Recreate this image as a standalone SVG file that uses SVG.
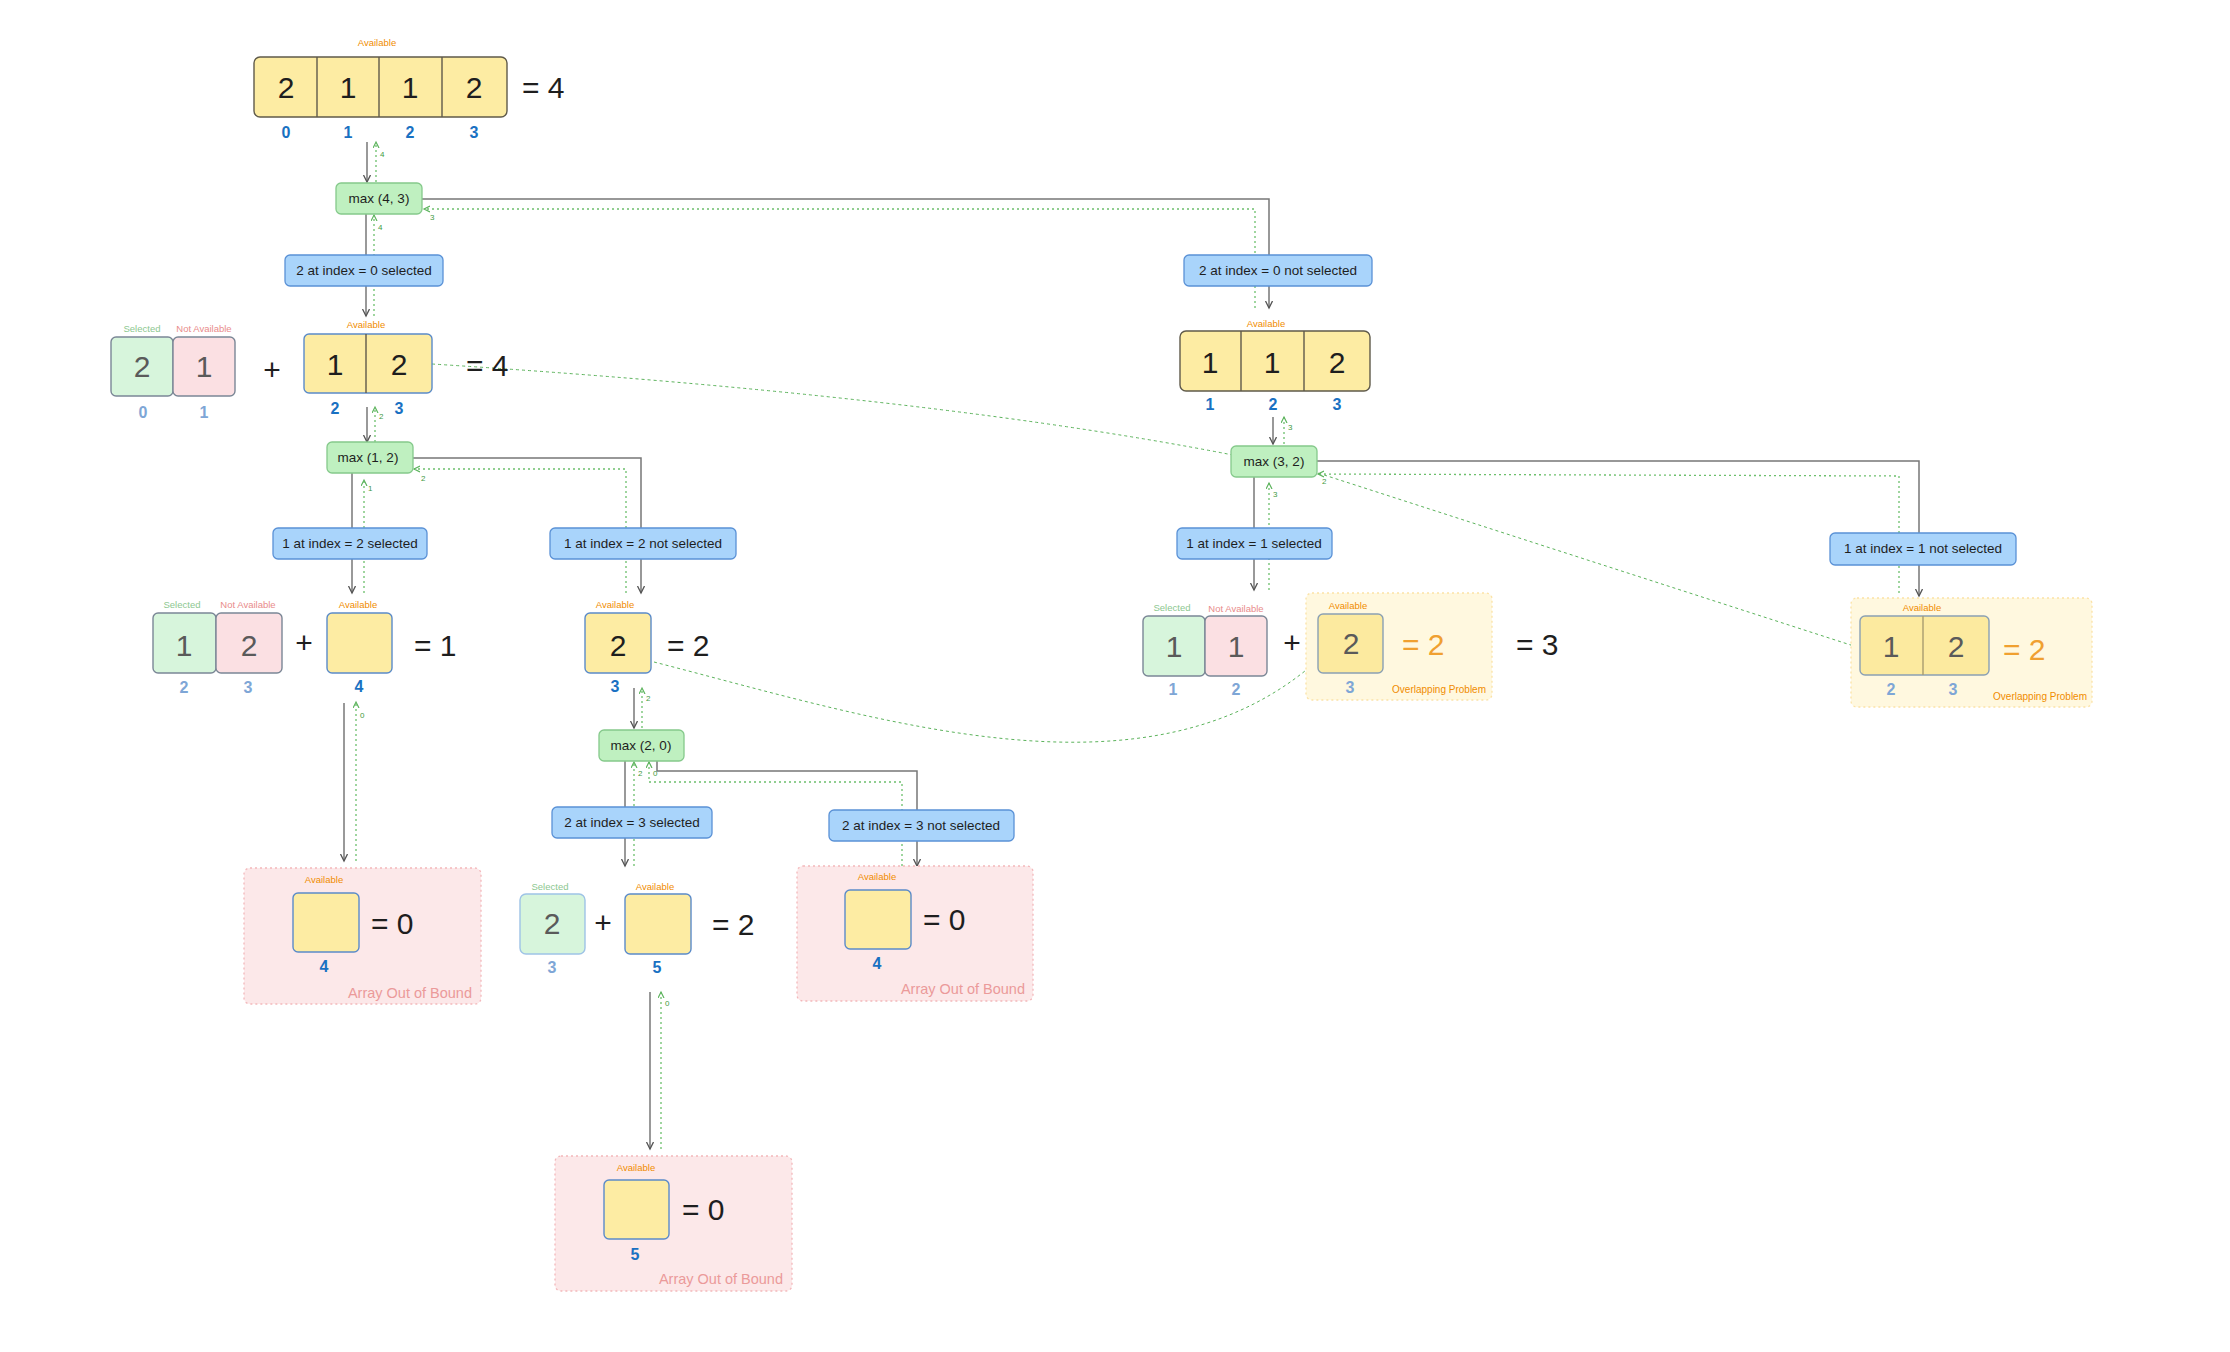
<svg xmlns="http://www.w3.org/2000/svg" width="2230" height="1352" viewBox="0 0 2230 1352">
<style>
text{font-family:"Liberation Sans",Arial,sans-serif}
.big{font-size:30px;fill:#1e1e1e;text-anchor:middle}
.eq{font-size:30px;fill:#1e1e1e}
.fade{fill:#5a5a5a}
.idx{font-size:16px;fill:#1971c2;text-anchor:middle;font-weight:bold}
.idxf{font-size:16px;fill:#7ea6d6;text-anchor:middle;font-weight:bold}
.avl{font-size:9.5px;fill:#f08c00;text-anchor:middle}
.sel{font-size:9.5px;fill:#8cc790;text-anchor:middle}
.nav{font-size:9.5px;fill:#e98b8b;text-anchor:middle}
.lbl{font-size:13.5px;fill:#1e1e1e;text-anchor:middle}
.cl{font-size:8px;fill:#3f9a3f}
.yel{fill:#fdeca3;stroke:#5f5a4a;stroke-width:1.4}
.yelb{fill:#fdeca3;stroke:#5b8bc9;stroke-width:1.4}
.selc{fill:#d7f5dc;stroke:#7b8796;stroke-width:1.4}
.navc{fill:#fbe0e3;stroke:#7b8796;stroke-width:1.4}
.node{fill:#bff0c0;stroke:#85c98b;stroke-width:1.3}
.blue{fill:#a9d4fb;stroke:#5a91d6;stroke-width:1.3}
.oob{fill:#fce8e9;stroke:#f3b8bb;stroke-width:1.3;stroke-dasharray:2 3}
.ovl{fill:#fff8df;stroke:#fbe2a6;stroke-width:1.3;stroke-dasharray:2 3}
.oobt{font-size:14.5px;fill:#eb9a9a;text-anchor:end}
.ovlt{font-size:10px;fill:#f08c00;text-anchor:end}
.g{fill:none;stroke:#777;stroke-width:1.5}
.d{fill:none;stroke:#6cbf6c;stroke-width:1.3;stroke-dasharray:2 3}
.dl{fill:none;stroke:#5cb35c;stroke-width:1;stroke-dasharray:3 3}
</style>
<defs>
<marker id="ag" markerUnits="userSpaceOnUse" markerWidth="10" markerHeight="10" refX="7" refY="4" orient="auto">
<path d="M0,0.5 L7,4 L0,7.5" fill="none" stroke="#555" stroke-width="1.3"/>
</marker>
<marker id="ad" markerUnits="userSpaceOnUse" markerWidth="10" markerHeight="10" refX="6" refY="3.5" orient="auto">
<path d="M0,0.5 L6,3.5 L0,6.5" fill="none" stroke="#5cb35c" stroke-width="1.2"/>
</marker>
</defs>
<rect width="2230" height="1352" fill="#ffffff"/>

<g id="connectors">
<path class="dl" d="M432,364 Q1000,400 1318,473 L1860,648"/>
<path class="dl" d="M654,662 C880,720 1150,810 1318,660"/>
<path class="g" d="M367,142 L367,182" marker-end="url(#ag)"/>
<path class="d" d="M376,182 L376,142" marker-end="url(#ad)"/>
<text class="cl" x="380" y="157">4</text>
<path class="g" d="M366,214 L366,316" marker-end="url(#ag)"/>
<path class="d" d="M374,316 L374,215" marker-end="url(#ad)"/>
<text class="cl" x="378" y="230">4</text>
<path class="g" d="M422,199 L1269,199 L1269,308" marker-end="url(#ag)"/>
<path class="d" d="M1255,308 L1255,209 L424,209" marker-end="url(#ad)"/>
<text class="cl" x="430" y="220">3</text>
<path class="g" d="M367,407 L367,442" marker-end="url(#ag)"/>
<path class="d" d="M375,442 L375,407" marker-end="url(#ad)"/>
<text class="cl" x="379" y="419">2</text>
<path class="g" d="M352,473 L352,593" marker-end="url(#ag)"/>
<path class="d" d="M364,593 L364,480" marker-end="url(#ad)"/>
<text class="cl" x="368" y="491">1</text>
<path class="g" d="M413,458 L641,458 L641,593" marker-end="url(#ag)"/>
<path class="d" d="M626,593 L626,469 L414,469" marker-end="url(#ad)"/>
<text class="cl" x="421" y="481">2</text>
<path class="g" d="M344,703 L344,861" marker-end="url(#ag)"/>
<path class="d" d="M356,861 L356,702" marker-end="url(#ad)"/>
<text class="cl" x="360" y="718">0</text>
<path class="g" d="M634,688 L634,728" marker-end="url(#ag)"/>
<path class="d" d="M642,728 L642,688" marker-end="url(#ad)"/>
<text class="cl" x="646" y="701">2</text>
<path class="g" d="M625,761 L625,866" marker-end="url(#ag)"/>
<path class="d" d="M634,866 L634,762" marker-end="url(#ad)"/>
<text class="cl" x="638" y="776">2</text>
<path class="g" d="M657,761 L657,771 L917,771 L917,866" marker-end="url(#ag)"/>
<path class="d" d="M902,866 L902,782 L649,782 L649,762" marker-end="url(#ad)"/>
<text class="cl" x="653" y="776">0</text>
<path class="g" d="M650,992 L650,1149" marker-end="url(#ag)"/>
<path class="d" d="M661,1149 L661,992" marker-end="url(#ad)"/>
<text class="cl" x="665" y="1006">0</text>
<path class="g" d="M1273,417 L1273,444" marker-end="url(#ag)"/>
<path class="d" d="M1284,444 L1284,417" marker-end="url(#ad)"/>
<text class="cl" x="1288" y="430">3</text>
<path class="g" d="M1254,477 L1254,590" marker-end="url(#ag)"/>
<path class="d" d="M1269,590 L1269,483" marker-end="url(#ad)"/>
<text class="cl" x="1273" y="497">3</text>
<path class="g" d="M1317,461 L1919,461 L1919,596" marker-end="url(#ag)"/>
<path class="d" d="M1899,593 L1899,476 L1318,474" marker-end="url(#ad)"/>
<text class="cl" x="1322" y="484">2</text>
</g>

<g id="arr-0123">
<text class="avl" x="377" y="46">Available</text>
<rect class="yel" x="254" y="57" width="253" height="60" rx="6"/>
<path d="M317,57 V117 M379,57 V117 M442,57 V117" stroke="#5f5a4a" stroke-width="1.4"/>
<text class="big" x="286" y="98">2</text>
<text class="big" x="348" y="98">1</text>
<text class="big" x="410" y="98">1</text>
<text class="big" x="474" y="98">2</text>
<text class="eq" x="522" y="98">= 4</text>
<text class="idx" x="286" y="138">0</text>
<text class="idx" x="348" y="138">1</text>
<text class="idx" x="410" y="138">2</text>
<text class="idx" x="474" y="138">3</text>
</g>

<g id="max43">
<rect class="node" x="336" y="183" width="86" height="31" rx="5"/>
<text class="lbl" x="379" y="203">max (4, 3)</text>
</g>
<g id="sel0">
<rect class="blue" x="285" y="255" width="158" height="31" rx="5"/>
<text class="lbl" x="364" y="275">2 at index = 0 selected</text>
</g>
<g id="nsel0">
<rect class="blue" x="1184" y="255" width="188" height="31" rx="5"/>
<text class="lbl" x="1278" y="275">2 at index = 0 not selected</text>
</g>

<g id="state-0sel">
<text class="sel" x="142" y="332">Selected</text>
<text class="nav" x="204" y="332">Not Available</text>
<rect class="selc" x="111" y="337" width="62" height="59" rx="5"/>
<rect class="navc" x="173" y="337" width="62" height="59" rx="5"/>
<text class="big fade" x="142" y="377">2</text>
<text class="big fade" x="204" y="377">1</text>
<text class="idxf" x="143" y="418">0</text>
<text class="idxf" x="204" y="418">1</text>
<text class="big" x="272" y="380">+</text>
<text class="avl" x="366" y="328">Available</text>
<rect class="yelb" x="304" y="334" width="128" height="59" rx="5"/>
<path d="M366,334 V393" stroke="#5f5a4a" stroke-width="1.4"/>
<text class="big" x="335" y="375">1</text>
<text class="big" x="399" y="375">2</text>
<text class="idx" x="335" y="414">2</text>
<text class="idx" x="399" y="414">3</text>
<text class="eq" x="466" y="376">= 4</text>
</g>

<g id="state-0nsel">
<text class="avl" x="1266" y="327">Available</text>
<rect class="yel" x="1180" y="331" width="190" height="60" rx="6"/>
<path d="M1241,331 V391 M1304,331 V391" stroke="#5f5a4a" stroke-width="1.4"/>
<text class="big" x="1210" y="373">1</text>
<text class="big" x="1272" y="373">1</text>
<text class="big" x="1337" y="373">2</text>
<text class="idx" x="1210" y="410">1</text>
<text class="idx" x="1273" y="410">2</text>
<text class="idx" x="1337" y="410">3</text>
</g>

<g id="max12">
<rect class="node" x="327" y="442" width="86" height="31" rx="5"/>
<text class="lbl" x="368" y="462">max (1, 2)</text>
</g>
<g id="sel2">
<rect class="blue" x="273" y="528" width="154" height="31" rx="5"/>
<text class="lbl" x="350" y="548">1 at index = 2 selected</text>
</g>
<g id="nsel2">
<rect class="blue" x="550" y="528" width="186" height="31" rx="5"/>
<text class="lbl" x="643" y="548">1 at index = 2 not selected</text>
</g>

<g id="max32">
<rect class="node" x="1231" y="446" width="86" height="31" rx="5"/>
<text class="lbl" x="1274" y="466">max (3, 2)</text>
</g>
<g id="sel1">
<rect class="blue" x="1177" y="528" width="155" height="31" rx="5"/>
<text class="lbl" x="1254" y="548">1 at index = 1 selected</text>
</g>
<g id="nsel1">
<rect class="blue" x="1830" y="533" width="186" height="32" rx="5"/>
<text class="lbl" x="1923" y="553">1 at index = 1 not selected</text>
</g>

<g id="state-2sel">
<text class="sel" x="182" y="608">Selected</text>
<text class="nav" x="248" y="608">Not Available</text>
<rect class="selc" x="153" y="613" width="63" height="60" rx="5"/>
<rect class="navc" x="216" y="613" width="66" height="60" rx="5"/>
<text class="big fade" x="184" y="656">1</text>
<text class="big fade" x="249" y="656">2</text>
<text class="idxf" x="184" y="693">2</text>
<text class="idxf" x="248" y="693">3</text>
<text class="big" x="304" y="653">+</text>
<text class="avl" x="358" y="608">Available</text>
<rect class="yelb" x="327" y="613" width="65" height="60" rx="5"/>
<text class="idx" x="359" y="692">4</text>
<text class="eq" x="414" y="656">= 1</text>
</g>

<g id="state-2nsel">
<text class="avl" x="615" y="608">Available</text>
<rect class="yelb" x="585" y="613" width="66" height="60" rx="5"/>
<text class="big" x="618" y="656">2</text>
<text class="idx" x="615" y="692">3</text>
<text class="eq" x="667" y="656">= 2</text>
</g>

<g id="state-1sel">
<text class="sel" x="1172" y="611">Selected</text>
<text class="nav" x="1236" y="612">Not Available</text>
<rect class="selc" x="1143" y="616" width="62" height="60" rx="5"/>
<rect class="navc" x="1205" y="616" width="62" height="60" rx="5"/>
<text class="big fade" x="1174" y="657">1</text>
<text class="big fade" x="1236" y="657">1</text>
<text class="idxf" x="1173" y="695">1</text>
<text class="idxf" x="1236" y="695">2</text>
<text class="big" x="1292" y="653">+</text>
<rect class="ovl" x="1306" y="593" width="186" height="107" rx="6"/>
<text class="avl" x="1348" y="609">Available</text>
<rect x="1318" y="614" width="65" height="59" rx="5" fill="#fcea9f" stroke="#8aa0b4" stroke-width="1.4"/>
<text class="big fade" x="1351" y="654">2</text>
<text class="idxf" x="1350" y="693">3</text>
<text class="eq" x="1402" y="655" style="fill:#f0a030">= 2</text>
<text class="ovlt" x="1486" y="693">Overlapping Problem</text>
<text class="eq" x="1516" y="655">= 3</text>
</g>

<g id="state-1nsel">
<rect class="ovl" x="1851" y="598" width="241" height="109" rx="6"/>
<text class="avl" x="1922" y="611">Available</text>
<rect x="1860" y="616" width="129" height="59" rx="5" fill="#fcea9f" stroke="#8aa0b4" stroke-width="1.4"/>
<path d="M1923,616 V675" stroke="#a89c70" stroke-width="1.4"/>
<text class="big fade" x="1891" y="657">1</text>
<text class="big fade" x="1956" y="657">2</text>
<text class="idxf" x="1891" y="695">2</text>
<text class="idxf" x="1953" y="695">3</text>
<text class="eq" x="2003" y="660" style="fill:#f0a030">= 2</text>
<text class="ovlt" x="2087" y="700">Overlapping Problem</text>
</g>

<g id="max20">
<rect class="node" x="599" y="730" width="85" height="31" rx="5"/>
<text class="lbl" x="641" y="750">max (2, 0)</text>
</g>
<g id="sel3">
<rect class="blue" x="552" y="807" width="160" height="31" rx="5"/>
<text class="lbl" x="632" y="827">2 at index = 3 selected</text>
</g>
<g id="nsel3">
<rect class="blue" x="829" y="810" width="185" height="31" rx="5"/>
<text class="lbl" x="921" y="830">2 at index = 3 not selected</text>
</g>

<g id="oob-4a">
<rect class="oob" x="244" y="868" width="237" height="136" rx="6"/>
<text class="avl" x="324" y="883">Available</text>
<rect class="yelb" x="293" y="893" width="66" height="59" rx="5"/>
<text class="eq" x="371" y="934">= 0</text>
<text class="idx" x="324" y="972">4</text>
<text class="oobt" x="472" y="998">Array Out of Bound</text>
</g>

<g id="state-3sel">
<text class="sel" x="550" y="890">Selected</text>
<rect x="520" y="894" width="65" height="60" rx="6" fill="#d7f5dc" stroke="#9ec3e6" stroke-width="1.4"/>
<text class="big fade" x="552" y="934">2</text>
<text class="idxf" x="552" y="973">3</text>
<text class="big" x="603" y="933">+</text>
<text class="avl" x="655" y="890">Available</text>
<rect class="yelb" x="625" y="894" width="66" height="60" rx="5"/>
<text class="idx" x="657" y="973">5</text>
<text class="eq" x="712" y="935">= 2</text>
</g>

<g id="oob-4b">
<rect class="oob" x="797" y="866" width="236" height="135" rx="6"/>
<text class="avl" x="877" y="880">Available</text>
<rect class="yelb" x="845" y="890" width="66" height="59" rx="5"/>
<text class="eq" x="923" y="930">= 0</text>
<text class="idx" x="877" y="969">4</text>
<text class="oobt" x="1025" y="994">Array Out of Bound</text>
</g>

<g id="oob-5">
<rect class="oob" x="555" y="1156" width="237" height="135" rx="6"/>
<text class="avl" x="636" y="1171">Available</text>
<rect class="yelb" x="604" y="1180" width="65" height="59" rx="5"/>
<text class="eq" x="682" y="1220">= 0</text>
<text class="idx" x="635" y="1260">5</text>
<text class="oobt" x="783" y="1284">Array Out of Bound</text>
</g>
</svg>
